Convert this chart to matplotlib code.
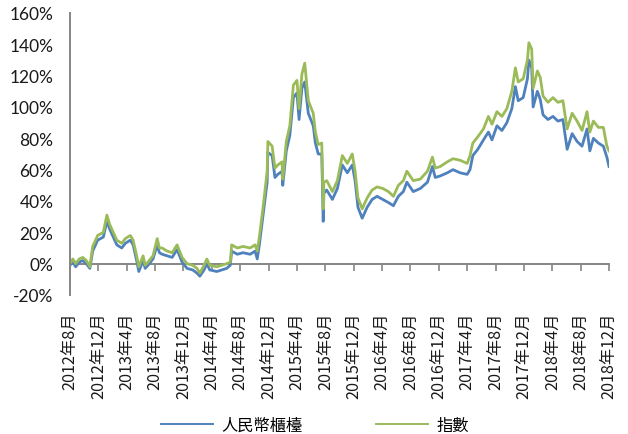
import matplotlib
matplotlib.use("Agg")
import matplotlib.pyplot as plt
import numpy as np

# months since 2012-08
months = [0.0, 0.4, 0.8, 1.3, 1.8, 2.3, 2.8, 3.2, 3.9, 4.7, 5.2, 5.6, 5.9, 6.6, 7.3, 7.8, 8.5, 8.9,
          9.4, 9.7, 10.3, 10.6, 11.0, 11.7, 12.3, 12.6, 13.0, 13.7, 14.4, 15.1, 15.8, 16.5, 17.3,
          17.9, 18.3, 18.9, 19.3, 19.7, 20.7, 21.4, 22.1, 22.6, 22.8, 23.6, 24.4, 25.4, 26.1, 26.4,
          26.7, 27.2, 27.8, 27.9, 28.5, 28.9, 29.3, 29.9, 30.0, 30.5, 31.0, 31.5, 32.0, 32.3, 32.7,
          33.1, 33.6, 34.3, 34.6, 35.0, 35.5, 35.7, 35.8, 36.2, 37.0, 37.7, 38.4, 39.1, 39.8, 40.2,
          40.6, 41.2, 41.9, 42.6, 43.3, 44.1, 44.9, 45.6, 46.3, 47.0, 47.5, 48.4, 49.4, 50.4, 51.1,
          51.5, 52.2, 53.2, 54.0, 55.0, 56.0, 56.4, 56.8, 57.5, 58.3, 59.0, 59.5, 60.2, 60.9, 61.6,
          62.3, 62.8, 63.2, 63.9, 64.5, 64.7, 65.1, 65.3, 65.9, 66.3, 66.7, 67.4, 68.1, 68.8, 69.5,
          70.1, 70.8, 71.5, 72.2, 72.9, 73.3, 73.8, 74.5, 75.2, 75.7, 76.0]

index_vals = [0, 3, 0, 3, 4, 2, -2, 11, 18, 20, 31, 25, 22, 15, 13, 16, 18, 15,
              5, -2, 5, -1, 1, 5, 16, 10, 10, 8, 7, 12, 4, 0, -1,
              -3, -6, -1, 3, -1, -2, -1, 0, 1, 12, 10, 11, 10, 12, 8,
              17, 35, 59, 78, 75, 61, 63, 65, 54, 78, 88, 114, 117, 99, 121,
              128, 104, 96, 84, 76, 77, 35, 52, 53, 46, 53, 69, 64, 70, 59,
              42, 35, 42, 47, 49, 48, 46, 43, 50, 53, 59, 53, 54, 59, 68,
              61, 62, 65, 67, 66, 64, 69, 77, 81, 86, 94, 89, 97, 94, 99,
              110, 125, 116, 118, 130, 141, 137, 112, 123, 119, 107, 103, 106, 103, 104,
              86, 96, 91, 85, 97, 84, 91, 87, 87, 75, 72]

rmb_vals = [-1, 1, -2, 1, 2, 0, -3, 8, 15, 17, 27, 22, 19, 12, 10, 13, 15, 12,
            2, -5, 2, -3, -1, 3, 12, 7, 6, 5, 4, 9, 1, -3, -4,
            -6, -8, -4, 0, -4, -5, -4, -3, -1, 8, 6, 7, 6, 8, 3,
            12, 30, 52, 71, 69, 55, 57, 59, 50, 72, 82, 106, 109, 92, 112,
            116, 96, 88, 77, 70, 70, 27, 45, 47, 41, 48, 63, 58, 63, 53,
            36, 29, 36, 41, 43, 41, 39, 37, 43, 46, 52, 46, 48, 52, 62,
            55, 56, 58, 60, 58, 57, 60, 69, 73, 79, 84, 79, 88, 85, 90,
            99, 113, 104, 106, 118, 130, 125, 100, 110, 105, 95, 92, 94, 91, 92,
            73, 83, 78, 75, 86, 72, 80, 77, 75, 68, 62]

tick_labels = ["2012年8月", "2012年12月", "2013年4月", "2013年8月", "2013年12月",
               "2014年4月", "2014年8月", "2014年12月", "2015年4月", "2015年8月",
               "2015年12月", "2016年4月", "2016年8月", "2016年12月", "2017年4月",
               "2017年8月", "2017年12月", "2018年4月", "2018年8月", "2018年12月"]
series_names = ["人民幣櫃檯", "指數"]

cjk = ["Noto Sans CJK TC", "DejaVu Sans"]
plt.rcParams["font.family"] = cjk

BLUE = "#4F81BD"
GREEN = "#9BBB59"
GRAY = "#868686"

fig = plt.figure(figsize=(6.28, 4.35), dpi=100)
ax = fig.add_axes([70 / 628, 1 - 296 / 435, (609 - 70) / 628, (296 - 14) / 435])

ax.plot(months, rmb_vals, color=BLUE, lw=2.0, label=series_names[0], solid_joinstyle="round")
ax.plot(months, index_vals, color=GREEN, lw=2.0, label=series_names[1], solid_joinstyle="round")

ax.set_xlim(0, 76)
ax.set_ylim(-20, 160)
ax.set_yticks(np.arange(-20, 161, 20))
ax.set_yticklabels([f"{v}%" for v in range(-20, 161, 20)], family=["Lato", "DejaVu Sans"],
                   fontsize=12.5, color="#1a1a1a")
ax.tick_params(axis="y", length=0, pad=12)

xt = np.arange(0, 77, 4)
ax.set_xticks(xt)
ax.set_xticklabels(tick_labels, rotation=90, fontsize=11.7, color="#1a1a1a")
ax.tick_params(axis="x", length=0, pad=12)

for s in ["top", "right", "bottom"]:
    ax.spines[s].set_visible(False)
ax.spines["left"].set_color(GRAY)
ax.spines["left"].set_linewidth(1.4)

loc = (0 - (-20)) / (160 - (-20))
sec = ax.secondary_xaxis(loc)
sec.set_xticks(xt)
sec.set_xticklabels([""] * len(xt))
sec.tick_params(axis="x", direction="out", length=5, width=1.2, color=GRAY)
sec.spines["bottom"].set_color(GRAY)
sec.spines["bottom"].set_linewidth(1.4)
sec.set_zorder(0)

leg = fig.legend(loc="center", bbox_to_anchor=(315 / 628, 1 - 426 / 435), ncol=2,
                 frameon=False, fontsize=11.7, handlelength=3.2, columnspacing=4.5,
                 handletextpad=0.5)
for line in leg.get_lines():
    line.set_linewidth(1.4)

fig.savefig("out.png", dpi=100)
